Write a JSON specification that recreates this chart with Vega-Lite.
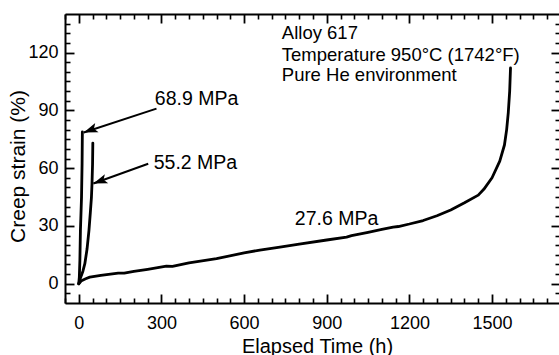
{
  "$schema": "https://vega.github.io/schema/vega-lite/v6.json",
  "width": 494,
  "height": 289,
  "autosize": "none",
  "padding": {"left": 65, "top": 14, "right": 0, "bottom": 52},
  "background": "white",
  "config": {
    "view": {"stroke": null},
    "font": "Liberation Sans",
    "axis": {"grid": false, "domainColor": "black", "tickColor": "black", "labelColor": "black", "titleColor": "black", "labelFont": "Liberation Sans", "titleFont": "Liberation Sans", "titleFontWeight": "normal"}
  },
  "datasets": {
    "curves": [
      {"series": "68.9 MPa", "t": 0, "s": 0},
      {"series": "68.9 MPa", "t": 2, "s": 3.4},
      {"series": "68.9 MPa", "t": 4, "s": 12},
      {"series": "68.9 MPa", "t": 6, "s": 27.7},
      {"series": "68.9 MPa", "t": 10, "s": 45},
      {"series": "68.9 MPa", "t": 12, "s": 62.3},
      {"series": "68.9 MPa", "t": 13, "s": 78.8},
      {"series": "55.2 MPa", "t": 0, "s": 0},
      {"series": "55.2 MPa", "t": 7, "s": 3.4},
      {"series": "55.2 MPa", "t": 15, "s": 6.5},
      {"series": "55.2 MPa", "t": 22, "s": 10.4},
      {"series": "55.2 MPa", "t": 30, "s": 18},
      {"series": "55.2 MPa", "t": 37, "s": 27.7},
      {"series": "55.2 MPa", "t": 42, "s": 37},
      {"series": "55.2 MPa", "t": 46, "s": 45},
      {"series": "55.2 MPa", "t": 48, "s": 51.9},
      {"series": "55.2 MPa", "t": 50, "s": 62},
      {"series": "55.2 MPa", "t": 51, "s": 73},
      {"series": "27.6 MPa", "t": 0, "s": 0},
      {"series": "27.6 MPa", "t": 10, "s": 1.6},
      {"series": "27.6 MPa", "t": 25, "s": 2.6},
      {"series": "27.6 MPa", "t": 40, "s": 3.4},
      {"series": "27.6 MPa", "t": 80, "s": 4.3},
      {"series": "27.6 MPa", "t": 143, "s": 5.5},
      {"series": "27.6 MPa", "t": 165, "s": 5.5},
      {"series": "27.6 MPa", "t": 200, "s": 6.4},
      {"series": "27.6 MPa", "t": 250, "s": 7.5},
      {"series": "27.6 MPa", "t": 318, "s": 9.1},
      {"series": "27.6 MPa", "t": 340, "s": 9.0},
      {"series": "27.6 MPa", "t": 400, "s": 10.8},
      {"series": "27.6 MPa", "t": 500, "s": 13},
      {"series": "27.6 MPa", "t": 600, "s": 16},
      {"series": "27.6 MPa", "t": 657, "s": 17.5},
      {"series": "27.6 MPa", "t": 730, "s": 19},
      {"series": "27.6 MPa", "t": 800, "s": 20.5},
      {"series": "27.6 MPa", "t": 900, "s": 22.7},
      {"series": "27.6 MPa", "t": 972, "s": 24.2},
      {"series": "27.6 MPa", "t": 990, "s": 25},
      {"series": "27.6 MPa", "t": 1050, "s": 26.7},
      {"series": "27.6 MPa", "t": 1100, "s": 28.2},
      {"series": "27.6 MPa", "t": 1141, "s": 29.4},
      {"series": "27.6 MPa", "t": 1160, "s": 29.7},
      {"series": "27.6 MPa", "t": 1200, "s": 31},
      {"series": "27.6 MPa", "t": 1250, "s": 32.8},
      {"series": "27.6 MPa", "t": 1300, "s": 35.3},
      {"series": "27.6 MPa", "t": 1350, "s": 38.3},
      {"series": "27.6 MPa", "t": 1400, "s": 42},
      {"series": "27.6 MPa", "t": 1450, "s": 46},
      {"series": "27.6 MPa", "t": 1470, "s": 49},
      {"series": "27.6 MPa", "t": 1500, "s": 55},
      {"series": "27.6 MPa", "t": 1528, "s": 63.6},
      {"series": "27.6 MPa", "t": 1545, "s": 72},
      {"series": "27.6 MPa", "t": 1553, "s": 80},
      {"series": "27.6 MPa", "t": 1559, "s": 89},
      {"series": "27.6 MPa", "t": 1564, "s": 100},
      {"series": "27.6 MPa", "t": 1567, "s": 112}
    ],
    "arrows": [
      {"label": "68.9 MPa", "t1": 282, "s1": 90.9, "t2": 18, "s2": 78.5},
      {"label": "55.2 MPa", "t1": 252, "s1": 62.3, "t2": 53, "s2": 52}
    ],
    "block": [
      {"text": "Alloy 617", "t": 737, "s": 127},
      {"text": "Temperature 950°C (1742°F)", "t": 737, "s": 115.4},
      {"text": "Pure He environment", "t": 737, "s": 105.3}
    ],
    "labels": [
      {"text": "68.9 MPa", "t": 276, "s": 92.6},
      {"text": "55.2 MPa", "t": 272, "s": 59.7},
      {"text": "27.6 MPa", "t": 784, "s": 30.6}
    ]
  },
  "resolve": {"axis": {"x": "independent", "y": "independent"}},
  "layer": [
    {
      "data": {"name": "curves"},
      "mark": {"type": "line", "color": "black", "strokeWidth": 2.8, "strokeCap": "round", "strokeJoin": "round"},
      "encoding": {
        "x": {"field": "t", "type": "quantitative", "scale": {"domain": [-50, 1743], "nice": false, "zero": false},
          "axis": {"orient": "bottom", "values": [0, 300, 600, 900, 1200, 1500], "format": "d", "ticks": false, "labelFontSize": 18, "labelPadding": 11, "domain": true, "domainWidth": 2, "title": "Elapsed Time (h)", "titleFontSize": 20, "titleX": 252, "titleY": 49, "titleBaseline": "alphabetic", "titleAnchor": "middle"}},
        "y": {"field": "s", "type": "quantitative", "scale": {"domain": [-10, 140], "nice": false, "zero": false},
          "axis": {"orient": "left", "values": [0, 30, 60, 90, 120], "format": "d", "ticks": false, "labelFontSize": 18, "labelPadding": 7, "domain": true, "domainWidth": 2, "title": "Creep strain (%)", "titleFontSize": 21, "titleX": -37, "titleY": 152, "titleBaseline": "bottom", "titleAngle": 270, "titleAnchor": "middle"}},
        "detail": {"field": "series"}
      }
    },
    {
      "data": {"name": "curves"},
      "mark": {"type": "line", "opacity": 0},
      "encoding": {
        "x": {"field": "t", "type": "quantitative", "axis": {"orient": "bottom", "values": [0, 300, 600, 900, 1200, 1500], "tickSize": -9, "tickWidth": 1.8, "labels": false, "domain": false, "title": null}},
        "y": {"field": "s", "type": "quantitative", "axis": {"orient": "left", "values": [0, 30, 60, 90, 120], "tickSize": -9, "tickWidth": 1.8, "labels": false, "domain": false, "title": null}},
        "detail": {"field": "series"}
      }
    },
    {
      "data": {"name": "curves"},
      "mark": {"type": "line", "opacity": 0},
      "encoding": {
        "x": {"field": "t", "type": "quantitative", "axis": {"orient": "bottom", "values": [-50, 50, 100, 150, 200, 250, 350, 400, 450, 500, 550, 650, 700, 750, 800, 850, 950, 1000, 1050, 1100, 1150, 1250, 1300, 1350, 1400, 1450, 1550, 1600, 1650, 1700], "tickSize": -5, "tickWidth": 1.6, "labels": false, "domain": false, "title": null}},
        "y": {"field": "s", "type": "quantitative", "axis": {"orient": "left", "values": [-5, 5, 10, 15, 20, 25, 35, 40, 45, 50, 55, 65, 70, 75, 80, 85, 95, 100, 105, 110, 115, 125, 130, 135], "tickSize": -5, "tickWidth": 1.6, "labels": false, "domain": false, "title": null}},
        "detail": {"field": "series"}
      }
    },
    {
      "data": {"name": "curves"},
      "mark": {"type": "line", "opacity": 0},
      "encoding": {
        "x": {"field": "t", "type": "quantitative", "axis": {"orient": "top", "values": [0, 300, 600, 900, 1200, 1500], "tickSize": -9, "tickWidth": 1.8, "labels": false, "domain": true, "domainWidth": 2, "title": null}},
        "y": {"field": "s", "type": "quantitative", "axis": {"orient": "right", "values": [0, 30, 60, 90, 120], "tickSize": -8, "tickWidth": 1.8, "labels": false, "domain": false, "title": null}},
        "detail": {"field": "series"}
      }
    },
    {
      "data": {"name": "curves"},
      "mark": {"type": "line", "opacity": 0},
      "encoding": {
        "x": {"field": "t", "type": "quantitative", "axis": {"orient": "top", "values": [-50, 50, 100, 150, 200, 250, 350, 400, 450, 500, 550, 650, 700, 750, 800, 850, 950, 1000, 1050, 1100, 1150, 1250, 1300, 1350, 1400, 1450, 1550, 1600, 1650, 1700], "tickSize": -5, "tickWidth": 1.6, "labels": false, "domain": false, "title": null}},
        "y": {"field": "s", "type": "quantitative", "axis": {"orient": "right", "values": [-5, 5, 10, 15, 20, 25, 35, 40, 45, 50, 55, 65, 70, 75, 80, 85, 95, 100, 105, 110, 115, 125, 130, 135], "tickSize": -4, "tickWidth": 1.6, "labels": false, "domain": false, "title": null}},
        "detail": {"field": "series"}
      }
    },
    {
      "data": {"name": "arrows"},
      "mark": {"type": "rule", "color": "black", "strokeWidth": 2},
      "encoding": {
        "x": {"field": "t1", "type": "quantitative", "axis": null},
        "y": {"field": "s1", "type": "quantitative", "axis": null},
        "x2": {"field": "t2"},
        "y2": {"field": "s2"}
      }
    },
    {
      "data": {"name": "arrows"},
      "mark": {"type": "point", "shape": "M 0 0 L -2 -0.7 L -1.55 0 L -2 0.7 Z", "filled": true, "color": "black", "opacity": 1, "size": 196, "angle": 160},
      "encoding": {
        "x": {"field": "t2", "type": "quantitative", "axis": null},
        "y": {"field": "s2", "type": "quantitative", "axis": null}
      }
    },
    {
      "data": {"name": "block"},
      "mark": {"type": "text", "align": "left", "baseline": "alphabetic", "fontSize": 18.5, "font": "Liberation Sans", "color": "black"},
      "encoding": {
        "x": {"field": "t", "type": "quantitative", "axis": null},
        "y": {"field": "s", "type": "quantitative", "axis": null},
        "text": {"field": "text"}
      }
    },
    {
      "data": {"name": "labels"},
      "mark": {"type": "text", "align": "left", "baseline": "alphabetic", "fontSize": 19.5, "font": "Liberation Sans", "color": "black"},
      "encoding": {
        "x": {"field": "t", "type": "quantitative", "axis": null},
        "y": {"field": "s", "type": "quantitative", "axis": null},
        "text": {"field": "text"}
      }
    }
  ]
}
